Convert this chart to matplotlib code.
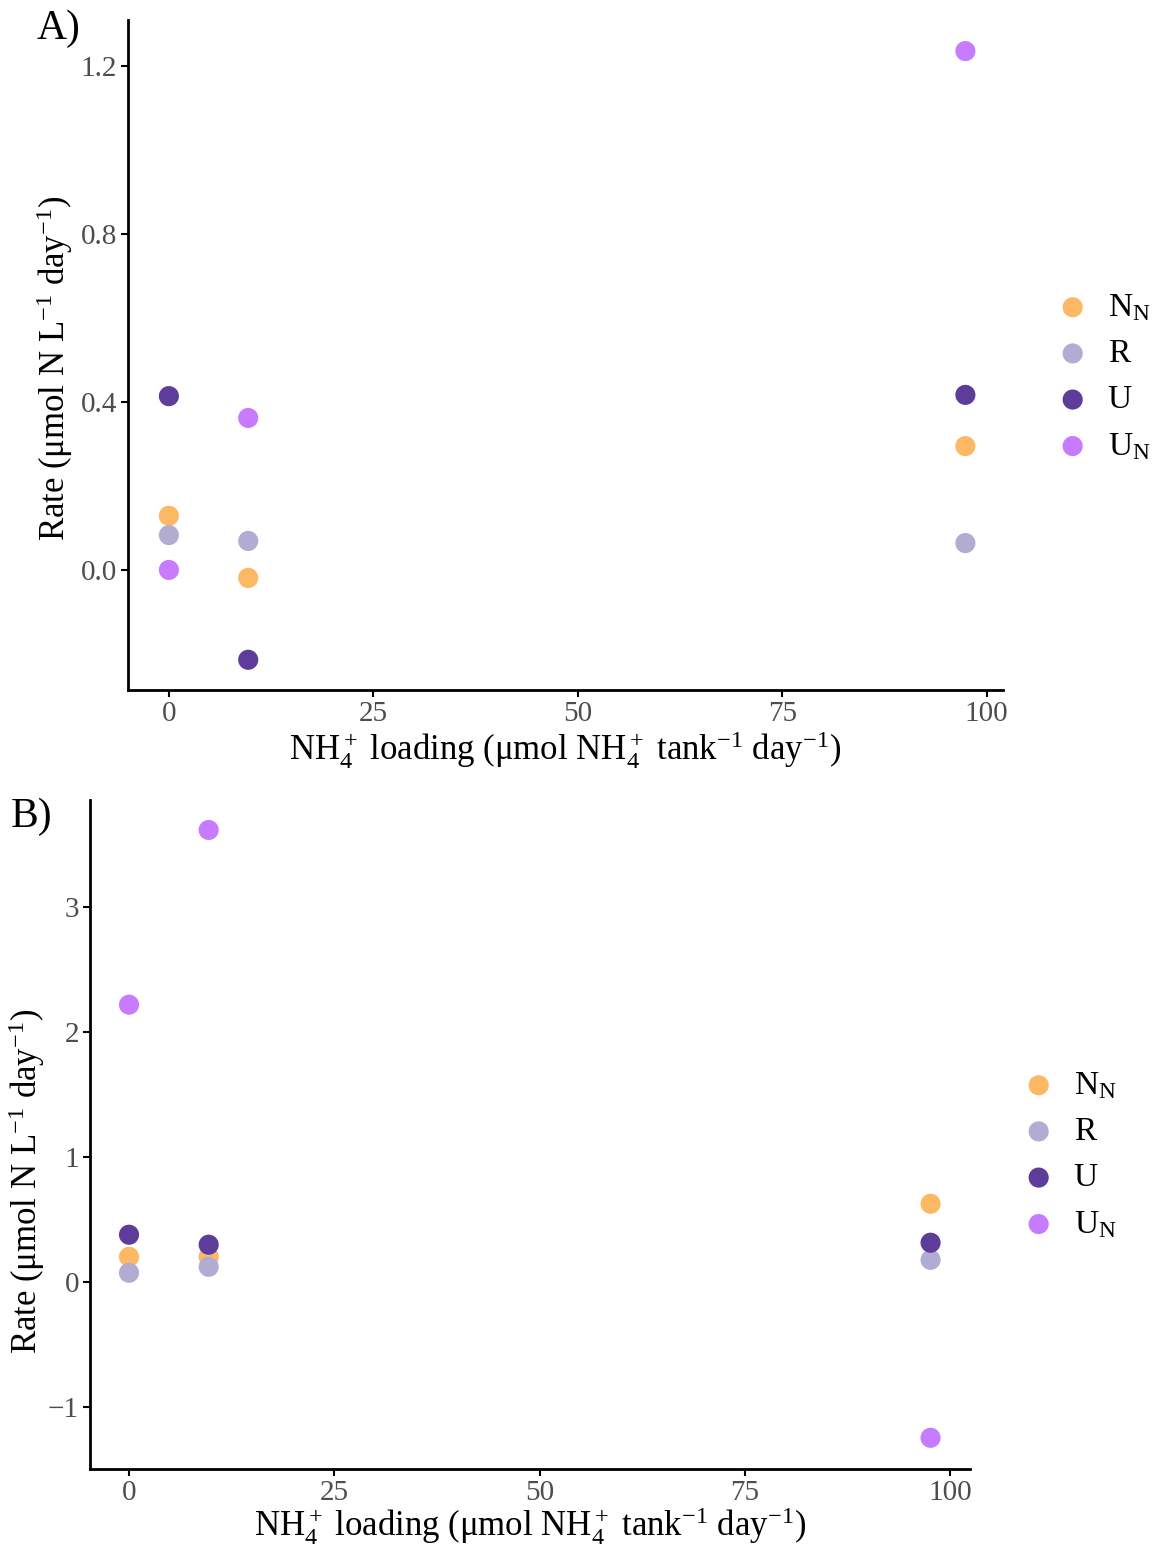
import numpy as np
import matplotlib
matplotlib.use("Agg")
from matplotlib import pyplot as plt

plt.rcParams['font.family'] = ['Liberation Serif', 'DejaVu Serif']
plt.rcParams['mathtext.fontset'] = 'custom'
plt.rcParams['mathtext.rm'] = 'Liberation Serif'
plt.rcParams['mathtext.it'] = 'Liberation Serif:italic'

# series names and colours
series = ['NN', 'R', 'U', 'UN']
labels = [r'N$_\mathrm{N}$', 'R', 'U', r'U$_\mathrm{N}$']
colors = ['#FDB863', '#B2ABD2', '#5E3C99', '#C77CFF']

# panel A: NH4+ loading vs rate
loading_a = [0, 9.7, 97.4]
rates_a = {
    'NN': [0.129, -0.019, 0.295],
    'R': [0.083, 0.069, 0.064],
    'U': [0.414, -0.214, 0.417],
    'UN': [0.0, 0.362, 1.236],
}

# panel B
loading_b = [0, 9.7, 97.6]
rates_b = {
    'NN': [0.20, 0.20, 0.625],
    'R': [0.072, 0.12, 0.176],
    'U': [0.377, 0.297, 0.313],
    'UN': [2.22, 3.62, -1.25],
}

xlab = r'NH$_4^+$ loading ($\mathrm{\mu}$mol NH$_4^+$ tank$^{-1}$ day$^{-1}$)'
ylab = r'Rate ($\mathrm{\mu}$mol N L$^{-1}$ day$^{-1}$)'

W, H = 1155, 1545
fig = plt.figure(figsize=(W / 100, H / 100), dpi=100)


def px_axes(x0, y0, x1, y1):
    return fig.add_axes([x0 / W, 1 - y1 / H, (x1 - x0) / W, (y1 - y0) / H])


def draw_panel(ax, loading, rates, xlim, ylim, yticks, yticklabels, ylab_pos,
               xpad, leg_pos, tag, tag_pos):
    for name, lab, col in zip(series, labels, colors):
        ax.scatter(loading, rates[name], s=210, color=col, label=lab,
                   edgecolors='none', zorder=3)
    ax.set_xlim(xlim)
    ax.set_ylim(ylim)
    ax.set_xticks([0, 25, 50, 75, 100])
    ax.set_yticks(yticks)
    ax.set_yticklabels(yticklabels)
    for s in ['top', 'right']:
        ax.spines[s].set_visible(False)
    for s in ['left', 'bottom']:
        ax.spines[s].set_linewidth(2)
    ax.tick_params(length=5, width=1.5, labelsize=21, labelcolor='#4D4D4D', pad=3)
    ax.set_xlabel(xlab, fontsize=25, labelpad=xpad)
    ax.set_ylabel(ylab, fontsize=25)
    ax.yaxis.set_label_coords(*ylab_pos)
    ax.legend(loc='center left', bbox_to_anchor=leg_pos,
              bbox_transform=fig.transFigure, frameon=False,
              fontsize=24, handlelength=1.0, handletextpad=0.55,
              borderpad=0, borderaxespad=0, labelspacing=0.47)
    fig.text(tag_pos[0] / W, 1 - tag_pos[1] / H, tag, fontsize=30,
             ha='left', va='top')


ax_a = px_axes(128, 20, 1003, 690)
draw_panel(ax_a, loading_a, rates_a, (-5.0, 102.0), (-0.286, 1.31),
           [0.0, 0.4, 0.8, 1.2], ['0.0', '0.4', '0.8', '1.2'],
           (-0.061, 0.48), 2, (1056 / W, 1 - 377 / H), 'A)', (37, 10))

ax_b = px_axes(90, 800, 970, 1469)
draw_panel(ax_b, loading_b, rates_b, (-4.75, 102.4), (-1.50, 3.86),
           [-1, 0, 1, 2, 3], ['\u22121', '0', '1', '2', '3'],
           (-0.049, 0.43), 0, (1022 / W, 1 - 1155 / H), 'B)', (11, 798))

fig.savefig('out.png', dpi=100)
